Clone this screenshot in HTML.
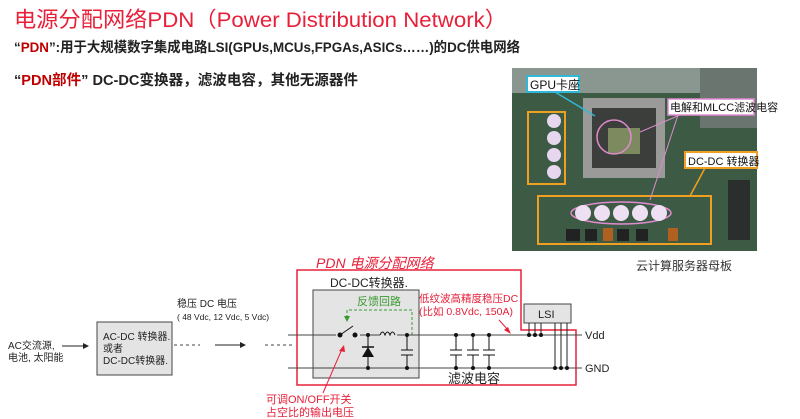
<!DOCTYPE html>
<html><head><meta charset="utf-8"><style>
html,body{margin:0;padding:0;background:#fff;}
body{width:800px;height:419px;overflow:hidden;position:relative;font-family:"Liberation Sans","Noto Sans CJK SC",sans-serif;}
</style></head><body>
<svg width="800" height="419" xmlns="http://www.w3.org/2000/svg" style="position:absolute;left:0;top:0" font-family="Liberation Sans, Noto Sans CJK SC, sans-serif">
<text x="14" y="27" font-size="21.5" fill="#e8203a" textLength="493" lengthAdjust="spacingAndGlyphs">电源分配网络PDN（Power Distribution Network）</text>
<text x="14" y="52" font-size="14" font-weight="bold" fill="#222" textLength="506" lengthAdjust="spacingAndGlyphs">“<tspan fill="#c00000">PDN</tspan>”:用于大规模数字集成电路LSI(GPUs,MCUs,FPGAs,ASICs……)的DC供电网络</text>
<text x="14" y="85" font-size="14.5" font-weight="bold" fill="#222" textLength="344" lengthAdjust="spacingAndGlyphs">“<tspan fill="#c00000">PDN部件</tspan>” DC-DC变换器，滤波电容，其他无源器件</text>

<!-- photo -->
<rect x="512" y="68" width="245" height="183" fill="#3d5a44"/>
<rect x="512" y="68" width="245" height="25" fill="#8a9690"/>
<rect x="700" y="68" width="57" height="60" fill="#6b7570"/>
<rect x="583" y="98" width="82" height="80" fill="#9a9a98"/>
<rect x="592" y="108" width="64" height="60" fill="#3b3e3a"/>
<rect x="608" y="128" width="32" height="26" fill="#7d8a60"/>
<circle cx="614" cy="137" r="17" fill="none" stroke="#e08ad0" stroke-width="1.5"/>
<rect x="728" y="180" width="22" height="60" fill="#2a2e2c"/>
<rect x="528" y="112" width="37" height="72" fill="none" stroke="#f0a020" stroke-width="2"/>
<g fill="#e6d6ee"><circle cx="554" cy="121" r="7"/><circle cx="554" cy="138" r="7"/><circle cx="554" cy="155" r="7"/><circle cx="554" cy="172" r="7"/></g>
<rect x="538" y="196" width="173" height="48" fill="none" stroke="#f0a020" stroke-width="2"/>
<ellipse cx="621" cy="213" rx="50" ry="11" fill="none" stroke="#e08ad0" stroke-width="1.5"/>
<g fill="#eee0f2"><circle cx="583" cy="213" r="8"/><circle cx="602" cy="213" r="8"/><circle cx="621" cy="213" r="8"/><circle cx="640" cy="213" r="8"/><circle cx="659" cy="213" r="8"/></g>
<g fill="#222"><rect x="566" y="229" width="14" height="12"/><rect x="585" y="229" width="12" height="12"/><rect x="617" y="229" width="12" height="12"/><rect x="636" y="229" width="12" height="12"/></g>
<g fill="#b06020"><rect x="603" y="228" width="10" height="13"/><rect x="668" y="228" width="10" height="13"/></g>
<rect x="527" y="76" width="52" height="16" fill="#fff" stroke="#30b8d8" stroke-width="2"/>
<text x="530" y="89" font-size="12" fill="#111">GPU卡座</text>
<line x1="555" y1="92" x2="595" y2="116" stroke="#30b8d8" stroke-width="1.5"/>
<rect x="668" y="99" width="86" height="16" fill="#fff" stroke="#e08ad0" stroke-width="1.5"/>
<text x="670" y="111" font-size="11" fill="#111">电解和MLCC滤波电容</text>
<line x1="680" y1="115" x2="640" y2="132" stroke="#e08ad0"/>
<line x1="678" y1="115" x2="650" y2="200" stroke="#e08ad0"/>
<rect x="685" y="152" width="72" height="16" fill="#fff" stroke="#f0a020" stroke-width="2"/>
<text x="688" y="165" font-size="11" fill="#111">DC-DC 转换器</text>
<line x1="705" y1="168" x2="690" y2="196" stroke="#f0a020" stroke-width="1.5"/>
<text x="636" y="270" font-size="12" fill="#333">云计算服务器母板</text>

<!-- left -->
<text x="8" y="349" font-size="10" fill="#222">AC交流源,</text>
<text x="8" y="361" font-size="10" fill="#222">电池, 太阳能</text>
<line x1="62" y1="346" x2="86" y2="346" stroke="#222"/>
<polygon points="89,346 83,343 83,349" fill="#222"/>
<rect x="97" y="322" width="75" height="53" fill="#e4e4e4" stroke="#444"/>
<text x="103" y="340" font-size="10" fill="#222">AC-DC 转换器.</text>
<text x="103" y="352" font-size="10" fill="#222">或者</text>
<text x="103" y="364" font-size="10" fill="#222">DC-DC转换器.</text>
<line x1="174" y1="345" x2="200" y2="345" stroke="#444" stroke-dasharray="3,3"/>
<line x1="215" y1="345" x2="242" y2="345" stroke="#222"/>
<polygon points="246,345 240,342 240,348" fill="#222"/>
<line x1="265" y1="345" x2="292" y2="345" stroke="#444" stroke-dasharray="3,3"/>
<text x="177" y="307" font-size="10" fill="#222">稳压 DC 电压</text>
<text x="177" y="320" font-size="8.5" fill="#222">( 48 Vdc, 12 Vdc, 5 Vdc)</text>

<!-- PDN -->
<text x="316" y="268" font-size="14" font-style="italic" fill="#e8203a">PDN 电源分配网络</text>
<polygon points="297,270 521,270 521,330 576,330 576,385 297,385" fill="none" stroke="#e8203a" stroke-width="1.5"/>
<rect x="313" y="290" width="106" height="88" fill="#e4e4e4" stroke="#444"/>
<text x="330" y="287" font-size="12" fill="#222">DC-DC转换器.</text>
<text x="357" y="305" font-size="11" fill="#3a9a30">反馈回路</text>
<polyline points="347,318 347,310 412,310 412,335" fill="none" stroke="#3a9a30" stroke-dasharray="3,2"/>
<polygon points="347,322 344,316 350,316" fill="#3a9a30"/>
<line x1="288" y1="335" x2="582" y2="335" stroke="#444"/>
<line x1="288" y1="368" x2="582" y2="368" stroke="#444"/>
<text x="585" y="339" font-size="11" fill="#222">Vdd</text>
<text x="585" y="372" font-size="11" fill="#222">GND</text>
<rect x="336" y="333" width="24" height="5" fill="#e4e4e4"/>
<circle cx="340" cy="335" r="2.5" fill="#111"/><circle cx="355" cy="335" r="2.5" fill="#111"/>
<line x1="340" y1="335" x2="353" y2="326" stroke="#111"/>
<rect x="380" y="333" width="17" height="5" fill="#e4e4e4"/>
<path d="M380,335 q2.5,-6 5,0 q2.5,-6 5,0 q2.5,-6 5,0" fill="none" stroke="#111"/>
<line x1="368" y1="335" x2="368" y2="368" stroke="#111"/>
<polygon points="368,347 362,357 374,357" fill="#111"/>
<line x1="362" y1="347" x2="374" y2="347" stroke="#111" stroke-width="1.5"/>
<circle cx="368" cy="335" r="2" fill="#111"/><circle cx="368" cy="368" r="2" fill="#111"/>
<g stroke="#111">
<line x1="407" y1="335" x2="407" y2="350"/><line x1="407" y1="355" x2="407" y2="368"/>
<line x1="401" y1="350" x2="413" y2="350"/><line x1="401" y1="355" x2="413" y2="355"/>
<line x1="456" y1="335" x2="456" y2="350"/><line x1="456" y1="355" x2="456" y2="368"/>
<line x1="450" y1="350" x2="462" y2="350"/><line x1="450" y1="355" x2="462" y2="355"/>
<line x1="473" y1="335" x2="473" y2="350"/><line x1="473" y1="355" x2="473" y2="368"/>
<line x1="467" y1="350" x2="479" y2="350"/><line x1="467" y1="355" x2="479" y2="355"/>
<line x1="489" y1="335" x2="489" y2="350"/><line x1="489" y1="355" x2="489" y2="368"/>
<line x1="483" y1="350" x2="495" y2="350"/><line x1="483" y1="355" x2="495" y2="355"/>
</g>
<g fill="#111">
<circle cx="407" cy="335" r="2"/><circle cx="407" cy="368" r="2"/>
<circle cx="456" cy="335" r="2"/><circle cx="456" cy="368" r="2"/>
<circle cx="473" cy="335" r="2"/><circle cx="473" cy="368" r="2"/>
<circle cx="489" cy="335" r="2"/><circle cx="489" cy="368" r="2"/>
</g>
<text x="448" y="383" font-size="13" fill="#222">滤波电容</text>
<text x="419" y="302" font-size="10.5" fill="#e8203a">低纹波高精度稳压DC</text>
<text x="419" y="315" font-size="10.5" fill="#e8203a">(比如 0.8Vdc, 150A)</text>
<line x1="499" y1="320" x2="509" y2="331" stroke="#e8203a"/>
<polygon points="511,334 504,330 508,327" fill="#e8203a"/>
<rect x="524" y="304" width="47" height="19" fill="#e4e4e4" stroke="#444"/>
<text x="538" y="318" font-size="11" fill="#222">LSI</text>
<g stroke="#222">
<line x1="529" y1="323" x2="529" y2="335"/><line x1="535" y1="323" x2="535" y2="335"/><line x1="541" y1="323" x2="541" y2="335"/>
<line x1="555" y1="323" x2="555" y2="368"/><line x1="561" y1="323" x2="561" y2="368"/><line x1="567" y1="323" x2="567" y2="368"/>
</g>
<g fill="#111">
<circle cx="529" cy="335" r="2"/><circle cx="535" cy="335" r="2"/><circle cx="541" cy="335" r="2"/>
<circle cx="555" cy="368" r="2"/><circle cx="561" cy="368" r="2"/><circle cx="567" cy="368" r="2"/>
</g>
<text x="266" y="403" font-size="11" fill="#e8203a">可调ON/OFF开关</text>
<text x="266" y="416" font-size="11" fill="#e8203a">占空比的输出电压</text>
<line x1="323" y1="393" x2="342" y2="349" stroke="#e8203a"/>
<polygon points="344,345 339,351 345,352" fill="#e8203a"/>
</svg>
</body></html>
